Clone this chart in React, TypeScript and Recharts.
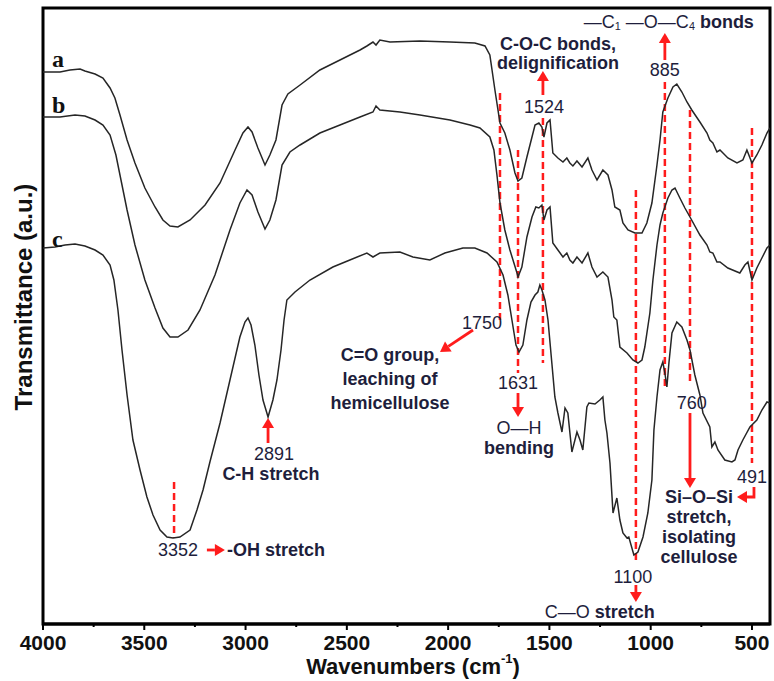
import React from 'react';
import { LineChart, Line, XAxis, YAxis, ReferenceLine, ReferenceDot, ReferenceArea } from 'recharts';

// spectrum a
const wnA = [4000, 3916, 3867, 3817, 3793, 3743, 3704, 3669, 3645, 3620, 3585, 3546, 3497, 3447, 3408, 3373, 3334, 3274, 3200, 3126, 3052, 3013, 2988, 2968, 2939, 2904, 2880, 2850, 2820, 2791, 2731, 2633, 2534, 2435, 2401, 2371, 2356, 2337, 2287, 2139, 1991, 1868, 1818, 1794, 1769, 1744, 1720, 1695, 1670, 1655, 1636, 1611, 1586, 1571, 1552, 1537, 1527, 1512, 1497, 1483, 1458, 1433, 1414, 1399, 1384, 1364, 1339, 1310, 1290, 1265, 1236, 1211, 1191, 1177, 1152, 1137, 1112, 1078, 1043, 1019, 994, 969, 954, 940, 915, 890, 871, 846, 821, 797, 757, 722, 708, 693, 673, 658, 619, 574, 545, 525, 500, 476, 451, 426, 411];
const tA = [552, 552, 554, 555, 553, 550, 546, 536, 526, 509, 484, 461, 436, 417, 404, 398, 397, 404, 419, 441, 474, 491, 497, 492, 476, 459, 469, 484, 519, 530, 539, 554, 564, 574, 578, 582, 579, 584, 582, 583, 582, 581, 578, 569, 534, 501, 491, 474, 451, 443, 446, 467, 487, 499, 501, 497, 487, 501, 504, 471, 466, 462, 466, 461, 458, 463, 457, 466, 454, 444, 454, 449, 434, 417, 414, 401, 394, 391, 391, 401, 421, 459, 484, 512, 526, 537, 540, 532, 522, 514, 502, 491, 484, 481, 472, 474, 466, 461, 464, 474, 461, 469, 479, 491, 496];

// spectrum b
const wnB = [4000, 3916, 3842, 3793, 3743, 3704, 3669, 3640, 3615, 3585, 3546, 3497, 3447, 3408, 3373, 3334, 3284, 3225, 3151, 3077, 3028, 2993, 2968, 2939, 2904, 2880, 2850, 2820, 2781, 2731, 2633, 2534, 2435, 2371, 2356, 2337, 2238, 2139, 1991, 1892, 1843, 1794, 1774, 1759, 1744, 1720, 1695, 1660, 1655, 1636, 1611, 1586, 1567, 1552, 1537, 1527, 1512, 1497, 1483, 1458, 1433, 1414, 1399, 1384, 1364, 1339, 1310, 1290, 1265, 1236, 1211, 1191, 1182, 1167, 1152, 1117, 1088, 1063, 1043, 1029, 1004, 989, 969, 954, 940, 915, 895, 880, 856, 831, 806, 757, 722, 708, 693, 673, 658, 619, 560, 535, 520, 500, 476, 451, 426, 411];
const tB = [507, 507, 509, 508, 504, 499, 489, 469, 444, 414, 379, 344, 316, 296, 287, 287, 294, 314, 349, 394, 421, 434, 429, 412, 395, 404, 424, 459, 472, 479, 491, 499, 507, 512, 518, 514, 512, 509, 504, 499, 496, 487, 474, 449, 421, 394, 374, 351, 347, 357, 387, 407, 417, 416, 419, 404, 414, 417, 381, 374, 367, 371, 364, 361, 367, 361, 371, 357, 347, 352, 347, 324, 307, 304, 277, 271, 264, 261, 264, 277, 311, 344, 379, 399, 411, 426, 434, 436, 426, 416, 407, 389, 379, 372, 371, 362, 362, 356, 351, 359, 362, 344, 356, 366, 376, 379];

// spectrum c
const wnC = [4000, 3941, 3891, 3842, 3793, 3743, 3704, 3669, 3650, 3630, 3610, 3585, 3556, 3521, 3487, 3457, 3422, 3388, 3358, 3324, 3274, 3240, 3210, 3176, 3126, 3077, 3028, 3003, 2988, 2973, 2954, 2934, 2914, 2889, 2865, 2845, 2825, 2810, 2796, 2756, 2682, 2569, 2485, 2401, 2371, 2337, 2238, 2174, 2090, 2016, 1927, 1868, 1808, 1759, 1729, 1705, 1685, 1665, 1650, 1631, 1611, 1591, 1571, 1557, 1547, 1537, 1522, 1507, 1488, 1473, 1458, 1438, 1423, 1409, 1389, 1364, 1349, 1335, 1315, 1305, 1275, 1251, 1236, 1226, 1216, 1201, 1186, 1167, 1152, 1137, 1117, 1108, 1083, 1063, 1038, 1014, 994, 984, 969, 954, 940, 930, 920, 910, 895, 871, 846, 821, 806, 782, 757, 742, 708, 698, 683, 668, 634, 599, 584, 569, 545, 510, 476, 451, 426, 411];
const tC = [376, 377, 379, 380, 378, 374, 369, 359, 344, 314, 274, 229, 184, 154, 127, 109, 94, 87, 86, 87, 94, 114, 134, 162, 201, 244, 287, 302, 306, 299, 279, 249, 224, 207, 224, 244, 274, 304, 324, 332, 344, 357, 364, 371, 367, 371, 372, 367, 364, 371, 376, 376, 371, 362, 349, 329, 304, 279, 272, 279, 304, 322, 329, 332, 339, 334, 324, 304, 261, 227, 211, 192, 216, 211, 172, 192, 184, 174, 217, 221, 220, 224, 227, 204, 191, 161, 111, 126, 104, 91, 86, 87, 69, 72, 87, 111, 144, 194, 227, 254, 262, 251, 237, 261, 291, 302, 297, 284, 274, 249, 229, 211, 197, 177, 182, 174, 164, 162, 164, 174, 184, 197, 204, 214, 222, 221];

const xTicks = [4000, 3750, 3500, 3250, 3000, 2750, 2500, 2250, 2000, 1750, 1500, 1250, 1000, 750, 500];

// dashed marker lines: position, top, bottom
const markW = [3353, 1744, 1655, 1532, 1073, 930, 806, 500];
const markTop = [142, 531, 474, 506, 434, 542, 514, 496];
const markBot = [86, 301, 251, 261, 64, 237, 239, 161];

const dataA = wnA.map((w, i) => ({ w, t: tA[i] }));
const dataB = wnB.map((w, i) => ({ w, t: tB[i] }));
const dataC = wnC.map((w, i) => ({ w, t: tC[i] }));

const RED = '#ff1c1c';
const NAVY = '#1e1e3c';
const FONT = '"Liberation Sans", Arial, sans-serif';

type Seg = { t: string; b?: boolean; sub?: boolean };
type NoteDef = { w: number; v: number; rows: Seg[][]; size?: number; lh?: number; anchor?: 'start' | 'middle' | 'end' };

const notes: NoteDef[] = [
  { w: 930, v: 554, rows: [[{ t: '885' }]] },
  { w: 1458, v: 580, rows: [[{ t: 'C-O-C bonds,', b: true }], [{ t: 'delignification', b: true }]], lh: 19 },
  { w: 1527, v: 517, rows: [[{ t: '1524' }]] },
  { w: 1330, v: 602, anchor: 'start', size: 18, rows: [[{ t: '—C' }, { t: '1', sub: true }, { t: ' —O—C' }, { t: '4', sub: true }, { t: ' bonds', b: true }]] },
  { w: 1833, v: 301, rows: [[{ t: '1750' }]] },
  { w: 2287, v: 269, rows: [[{ t: 'C=O group,', b: true }], [{ t: 'leaching of', b: true }], [{ t: 'hemicellulose', b: true }]], lh: 24 },
  { w: 1655, v: 241, rows: [[{ t: '1631' }]] },
  { w: 1650, v: 196, rows: [[{ t: 'O—H' }], [{ t: 'bending', b: true }]], lh: 20 },
  { w: 2860, v: 170, rows: [[{ t: '2891' }]] },
  { w: 2875, v: 150, rows: [[{ t: 'C-H stretch', b: true }]] },
  { w: 3334, v: 74, rows: [[{ t: '3352' }]] },
  { w: 3092, v: 74, anchor: 'start', rows: [[{ t: '-OH stretch', b: true }]] },
  { w: 1088, v: 47, rows: [[{ t: '1100' }]] },
  { w: 1251, v: 12, rows: [[{ t: 'C—O' }, { t: ' stretch', b: true }]] },
  { w: 797, v: 221, rows: [[{ t: '760' }]] },
  { w: 762, v: 127, rows: [[{ t: 'Si–O–Si', b: true }], [{ t: 'stretch,', b: true }], [{ t: 'isolating', b: true }], [{ t: 'cellulose', b: true }]], lh: 20 },
  { w: 500, v: 147, rows: [[{ t: '491' }]] },
];

// arrows: tip position, then tail offsets in px (tail first)
const arrows: { w: number; v: number; pts: [number, number][] }[] = [
  { w: 930, v: 591, pts: [[0, 27]] },
  { w: 1532, v: 553, pts: [[0, 24]] },
  { w: 2889, v: 206, pts: [[0, 25]] },
  { w: 1655, v: 207, pts: [[0, -24]] },
  { w: 1073, v: 22, pts: [[0, -17]] },
  { w: 806, v: 136, pts: [[0, -75]] },
  { w: 3102, v: 74, pts: [[-18, 0]] },
  { w: 2040, v: 272, pts: [[33, -22]] },
  { w: 574, v: 127, pts: [[17, -10], [17, 0]] },
];

const seriesLabels = [
  { name: 'a', w: 3956, v: 557 },
  { name: 'b', w: 3956, v: 511 },
  { name: 'c', w: 3956, v: 377 },
];

const Note = ({ cx, cy, def }: any) => {
  const size = def.size ?? 18;
  const lh = def.lh ?? 20;
  return (
    <g>
      {def.rows.map((row: Seg[], i: number) => {
        let shifted = false;
        return (
          <text key={i} x={cx} y={cy + i * lh} textAnchor={def.anchor ?? 'middle'} dominantBaseline="central"
            fontFamily={FONT} fontSize={size} fill={NAVY}>
            {row.map((s, j) => {
              let dy = 0;
              if (s.sub && !shifted) { dy = 4; shifted = true; }
              else if (!s.sub && shifted) { dy = -4; shifted = false; }
              return (
                <tspan key={j} dy={dy} fontWeight={s.b ? 'bold' : 'normal'} fontSize={s.sub ? size * 0.6 : size}>{s.t}</tspan>
              );
            })}
          </text>
        );
      })}
    </g>
  );
};

const Arrow = ({ cx, cy, pts }: any) => {
  const full: [number, number][] = [...pts, [0, 0]];
  const [px, py] = full[full.length - 2];
  const len = Math.hypot(px, py);
  const ux = -px / len;
  const uy = -py / len;
  const L = 10;
  const W = 6;
  const bx = cx - ux * L;
  const by = cy - uy * L;
  const head = `${cx},${cy} ${bx - uy * W},${by + ux * W} ${bx + uy * W},${by - ux * W}`;
  const shaft = full.slice(0, -1).map(([dx, dy]) => `${cx + dx},${cy + dy}`).join(' ') + ` ${bx},${by}`;
  return (
    <g>
      <polyline points={shaft} fill="none" stroke={RED} strokeWidth={2.8} />
      <polygon points={head} fill={RED} />
    </g>
  );
};

const AXIS_Y = 624;

const Tick = ({ x, payload }: any) => {
  const major = payload.value % 500 === 0;
  return (
    <g>
      <line x1={x} x2={x} y1={AXIS_Y} y2={AXIS_Y + (major ? 6 : 3)} stroke="#000" strokeWidth={2} />
      {major && (
        <text x={x} y={AXIS_Y + 18} textAnchor="middle" dominantBaseline="central" fontFamily={FONT} fontWeight="bold" fontSize={21} fill="#111">
          {payload.value}
        </text>
      )}
    </g>
  );
};

export default function App() {
  return (
    <div style={{ position: 'absolute', left: 0, top: 0, width: 774, height: 681, background: '#fff' }}>
      <LineChart width={774} height={681} margin={{ top: 8, right: 4, bottom: 0, left: 43 }}>
        <XAxis dataKey="w" type="number" domain={[411, 4000]} reversed allowDataOverflow ticks={xTicks} interval={0}
          tick={<Tick />} tickLine={false} tickSize={0} tickMargin={0} height={57}
          axisLine={{ stroke: '#000', strokeWidth: 3 }}
          label={{
            content: () => (
              <text x={413} y={666} textAnchor="middle" dominantBaseline="central" fontFamily={FONT} fontWeight="bold" fontSize={22} fill="#111">
                Wavenumbers (cm<tspan fontSize={13} dy={-8}>-1</tspan><tspan dy={8}>)</tspan>
              </text>
            ),
          }} />
        <YAxis hide type="number" domain={[0, 616]} />

        <ReferenceArea x1={411} x2={4000} y1={0} y2={616} fill="none" stroke="#000" strokeWidth={3} ifOverflow="visible" />

        {markW.map((w, i) => (
          <ReferenceLine key={'m' + i} segment={[{ x: w, y: markTop[i] }, { x: w, y: markBot[i] }]}
            stroke={RED} strokeWidth={2.5} strokeDasharray="7 4" />
        ))}

        <Line data={dataA} dataKey="t" type="linear" stroke="#262626" strokeWidth={1.5} dot={false} isAnimationActive={false} />
        <Line data={dataB} dataKey="t" type="linear" stroke="#262626" strokeWidth={1.5} dot={false} isAnimationActive={false} />
        <Line data={dataC} dataKey="t" type="linear" stroke="#262626" strokeWidth={1.5} dot={false} isAnimationActive={false} />

        {arrows.map((a, i) => (
          <ReferenceDot key={'a' + i} x={a.w} y={a.v} r={0} shape={(p: any) => <Arrow cx={p.cx} cy={p.cy} pts={a.pts} />} />
        ))}
        {notes.map((n, i) => (
          <ReferenceDot key={'n' + i} x={n.w} y={n.v} r={0} shape={(p: any) => <Note cx={p.cx} cy={p.cy} def={n} />} />
        ))}
        {seriesLabels.map((s) => (
          <ReferenceDot key={s.name} x={s.w} y={s.v} r={0}
            shape={(p: any) => (
              <text x={p.cx} y={p.cy} fontFamily='"Liberation Serif", "Times New Roman", serif' fontWeight="bold" fontSize={24} fill="#111">
                {s.name}
              </text>
            )} />
        ))}
      </LineChart>
      <div style={{
        position: 'absolute', left: 24 - 150, top: 297 - 15, width: 300, height: 30, lineHeight: '30px',
        textAlign: 'center', transform: 'rotate(-90deg)', fontFamily: FONT, fontWeight: 'bold', fontSize: 24, color: '#111',
      }}>
        Transmittance (a.u.)
      </div>
    </div>
  );
}
